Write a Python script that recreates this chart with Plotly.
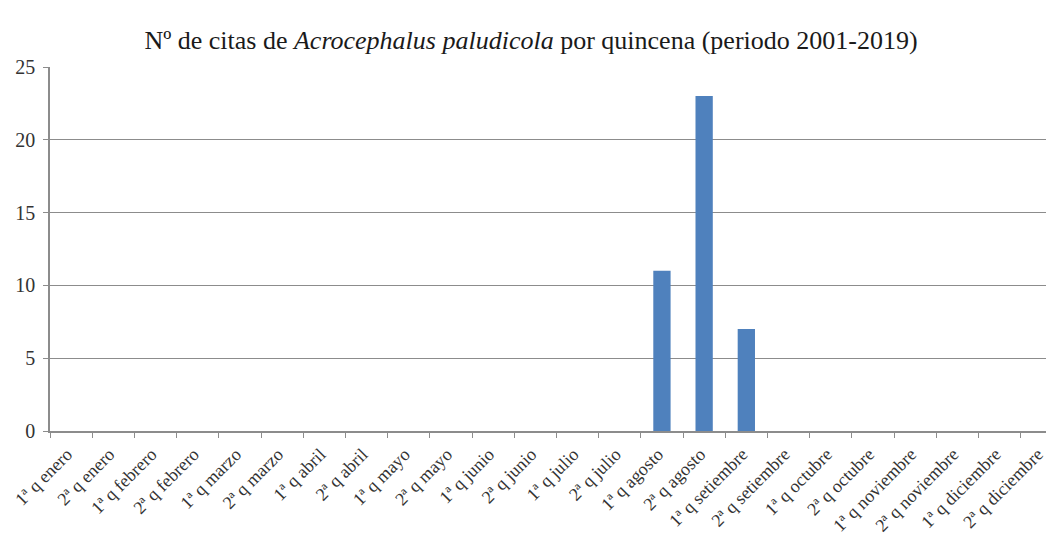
import plotly.graph_objects as go

categories = [
    "1ª q enero", "2ª q enero", "1ª q febrero", "2ª q febrero",
    "1ª q marzo", "2ª q marzo", "1ª q abril", "2ª q abril",
    "1ª q mayo", "2ª q mayo", "1ª q junio", "2ª q junio",
    "1ª q julio", "2ª q julio", "1ª q agosto", "2ª q agosto",
    "1ª q setiembre", "2ª q setiembre", "1ª q octubre", "2ª q octubre",
    "1ª q noviembre", "2ª q noviembre", "1ª q diciembre", "2ª q diciembre",
]
counts = [0, 0, 0, 0, 0, 0, 0, 0, 0, 0, 0, 0, 0, 0, 11, 23, 7, 0, 0, 0, 0, 0, 0, 0]
y_ticks = [0, 5, 10, 15, 20, 25]

SERIF = "Liberation Serif, Times New Roman, serif"

fig = go.Figure()
fig.add_trace(go.Bar(
    x=categories, y=counts,
    marker=dict(color="#4F81BD", line=dict(width=0)),
    width=0.41,
))

fig.update_layout(
    width=1046, height=533,
    paper_bgcolor="white", plot_bgcolor="white",
    margin=dict(l=42, r=0, t=59, b=110, autoexpand=False),
    showlegend=False,
    title=dict(
        text="Nº de citas de <i>Acrocephalus paludicola</i> por quincena (periodo 2001-2019)",
        x=0.5, xanchor="center", y=0.94, yanchor="middle",
        font=dict(family=SERIF, size=26, color="#1a1a1a"),
    ),
    font=dict(family=SERIF, color="#333333"),
)

fig.update_xaxes(
    type="category",
    range=[-0.5, 23.29],
    tickangle=-45,
    automargin=False,
    tickfont=dict(family=SERIF, size=18, color="#333333"),
    ticklabelstandoff=4,
    ticklabelshift=-4,
    showline=True, linecolor="#8c8c8c", linewidth=1.5,
    ticks="outside", ticklen=5, tickcolor="#8c8c8c", tickson="boundaries",
    showgrid=False, zeroline=False,
)
fig.update_yaxes(
    range=[0, 25],
    tickvals=y_ticks,
    automargin=False,
    tickfont=dict(family=SERIF, size=20, color="#333333"),
    ticklabelstandoff=4,
    showline=True, linecolor="#8c8c8c", linewidth=1.5,
    ticks="outside", ticklen=5, tickcolor="#8c8c8c",
    showgrid=True, gridcolor="#8c8c8c", gridwidth=1,
    zeroline=False,
)

fig.write_html("out.html")
